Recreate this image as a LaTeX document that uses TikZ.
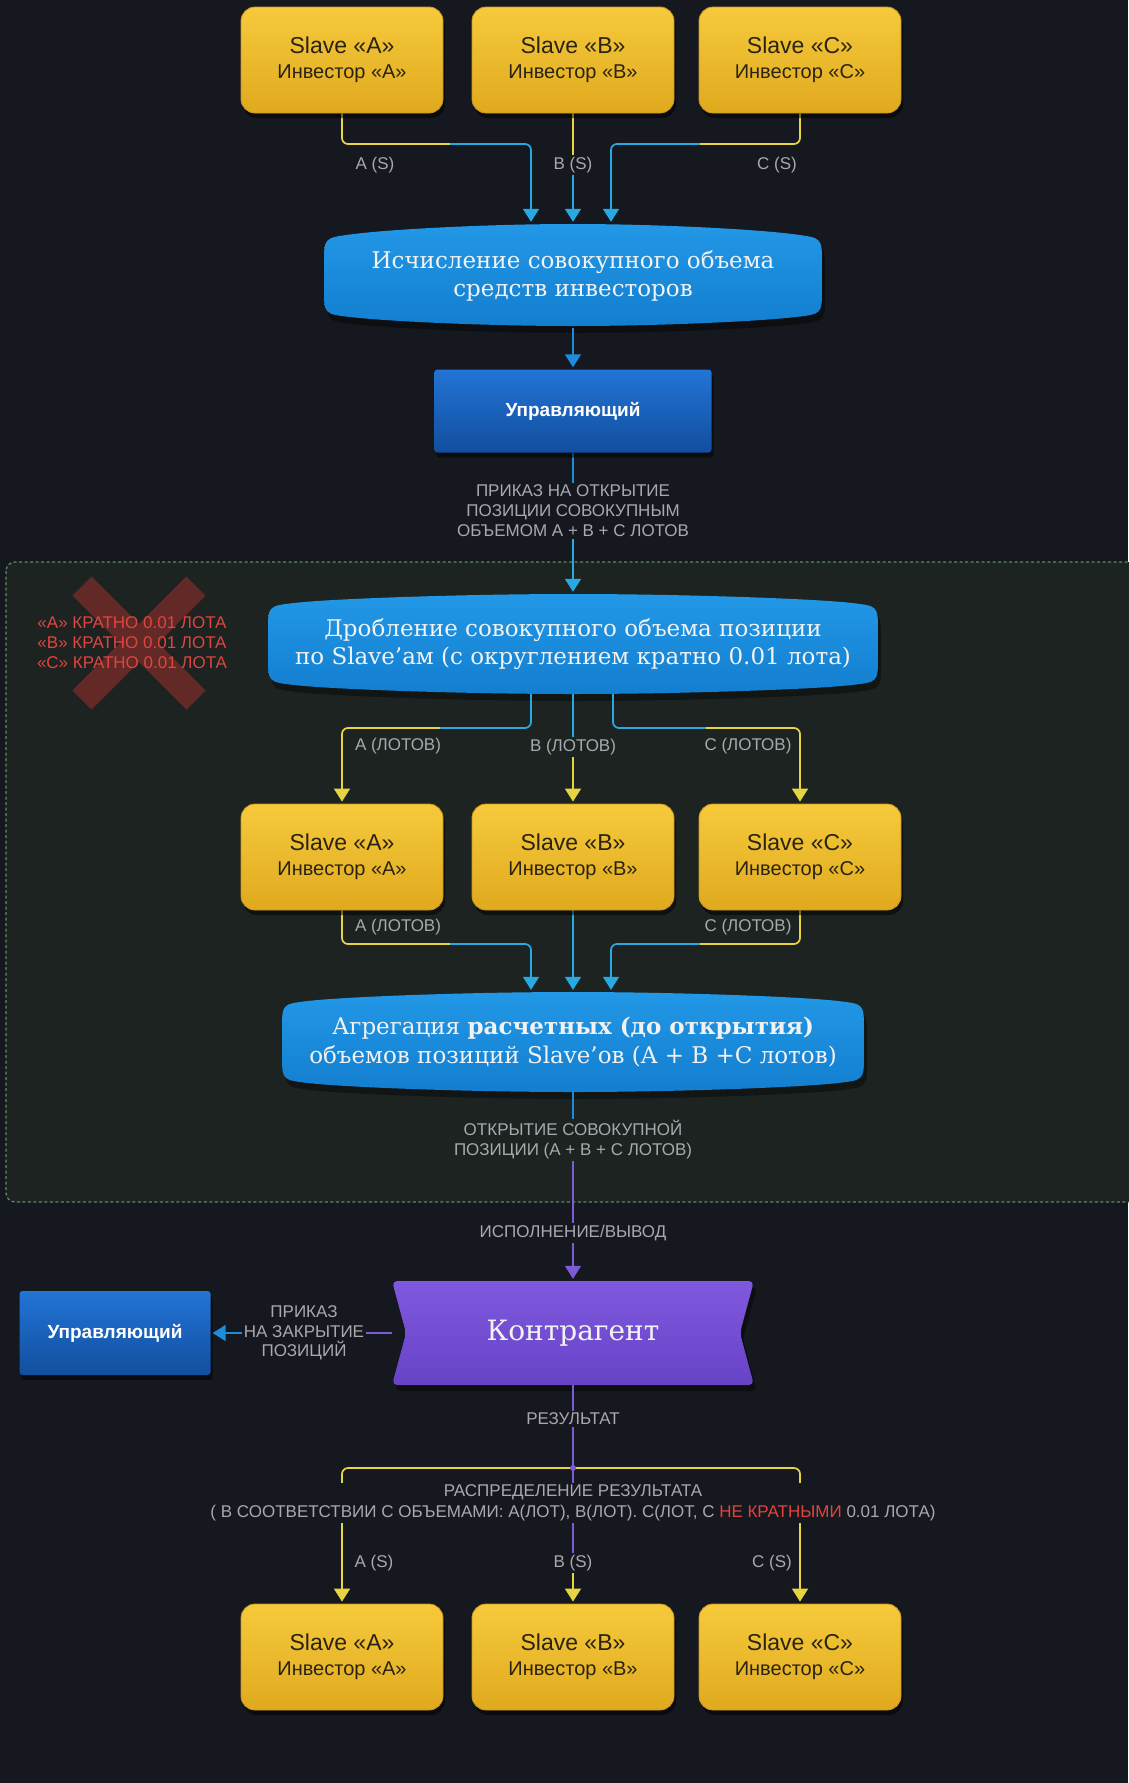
\documentclass[tikz,border=0pt]{standalone}
\usepackage{fontspec}
\setmainfont{DejaVu Serif}
\newfontfamily\sansf{Liberation Sans}
\usetikzlibrary{arrows.meta,calc,shadows}
\pgfdeclarelayer{bottomlayer}
\pgfdeclarelayer{linelayer}
\pgfsetlayers{bottomlayer,linelayer,main}
\definecolor{bg}{HTML}{15181F}
\definecolor{reg}{HTML}{1D2321}
\definecolor{regline}{HTML}{5E8C5A}
\definecolor{ylt}{HTML}{F6CA3C}
\definecolor{ydk}{HTML}{E0A91E}
\definecolor{yedge}{HTML}{C9961A}
\definecolor{ytext}{HTML}{2A2312}
\definecolor{cYel}{HTML}{E6D540}
\definecolor{cCyan}{HTML}{27A9E1}
\definecolor{cBlue}{HTML}{1E8BDB}
\definecolor{btop}{HTML}{2298E6}
\definecolor{bbot}{HTML}{137ECF}
\definecolor{btext}{HTML}{F2F2F2}
\definecolor{mtop}{HTML}{2274D6}
\definecolor{mbot}{HTML}{124E9E}
\definecolor{ptop}{HTML}{7F58DE}
\definecolor{pbot}{HTML}{6743C6}
\definecolor{cPur}{HTML}{7B5BD6}
\definecolor{labc}{HTML}{A6AAAF}
\definecolor{cRed}{HTML}{E0443E}
\definecolor{xred}{HTML}{6B2A27}
% pillow shape: #1 cx #2 cy #3 W #4 H #5 top bulge #6 bottom bulge #7 radius #8 options
\newcommand{\blobfill}[8]{%
 \path[#8] ({#1-#3},{#2-#4+#7})
 .. controls ({#1-#3},{#2-#4}) .. ({#1-#3+#7},{#2-#4-#5/4})
 .. controls ({#1-#3+#7+40},{#2-#4-#5/4-10*#5/#7}) and ({#1-#3/3},{#2-#4-#5}) .. ({#1},{#2-#4-#5})
 .. controls ({#1+#3/3},{#2-#4-#5}) and ({#1+#3-#7-40},{#2-#4-#5/4-10*#5/#7}) .. ({#1+#3-#7},{#2-#4-#5/4})
 .. controls ({#1+#3},{#2-#4}) .. ({#1+#3},{#2-#4+#7})
 -- ({#1+#3},{#2+#4-#7})
 .. controls ({#1+#3},{#2+#4}) .. ({#1+#3-#7},{#2+#4+#6/4})
 .. controls ({#1+#3-#7-40},{#2+#4+#6/4+10*#6/#7}) and ({#1+#3/3},{#2+#4+#6}) .. ({#1},{#2+#4+#6})
 .. controls ({#1-#3/3},{#2+#4+#6}) and ({#1-#3+#7+40},{#2+#4+#6/4+10*#6/#7}) .. ({#1-#3+#7},{#2+#4+#6/4})
 .. controls ({#1-#3},{#2+#4}) .. ({#1-#3},{#2+#4-#7}) -- cycle;}
\begin{document}
\begin{tikzpicture}[x=1pt,y=-1pt,
  slave/.style={rounded corners=14pt, minimum width=202pt, minimum height=106pt, top color=ylt, bottom color=ydk, draw=yedge, line width=0.8pt, drop shadow={shadow xshift=2pt, shadow yshift=-5pt, opacity=0.5, fill=black}, align=center, text=ytext, font=\sansf\fontsize{23}{25}\selectfont, inner sep=0pt},
  mgr/.style={rounded corners=3pt, top color=mtop, bottom color=mbot, drop shadow={shadow xshift=2pt, shadow yshift=-5pt, opacity=0.5, fill=black}, text=white, font=\sansf\bfseries\fontsize{19}{22}\selectfont},
  blob/.style={text=btext, align=center, font=\fontsize{23}{28.5}\selectfont, inner sep=0pt},
  lab/.style={font=\sansf\fontsize{17}{20}\selectfont, text=labc, fill=bg, inner sep=2pt, align=center},
  labr/.style={lab, fill=reg},
  ln/.style={line width=1.7pt, rounded corners=6pt},
  arr/.style={-{Triangle[width=16pt,length=13pt]}, shorten >=2pt},
]
\begin{pgfonlayer}{bottomlayer}
\fill[bg] (0,0) rectangle (1128,1783);
\useasboundingbox (0,0) rectangle (1128,1783);
\filldraw[fill=reg, draw=regline, dash pattern=on 3pt off 2.5pt, line width=1.3pt, rounded corners=9pt] (6,562) rectangle (1150,1202);
\draw[xred, line width=27pt, opacity=0.9] (82,586) -- (196,700) (196,586) -- (82,700);
% blobs
\blobfill{576}{283}{249}{38}{14}{12}{26}{fill=black,opacity=0.4}
\blobfill{573}{276}{249}{38}{14}{12}{26}{top color=btop,bottom color=bbot}
\blobfill{576}{651}{305}{38}{12}{12}{26}{fill=black,opacity=0.4}
\blobfill{573}{644}{305}{38}{12}{12}{26}{top color=btop,bottom color=bbot}
\blobfill{576}{1049}{291}{38}{12}{12}{26}{fill=black,opacity=0.4}
\blobfill{573}{1042}{291}{38}{12}{12}{26}{top color=btop,bottom color=bbot}
\fill[black,opacity=0.4,rounded corners=5pt] (395,1287) -- (757,1287) -- (743,1339) -- (757,1391) -- (395,1391) -- (409,1339) -- cycle;
\fill[top color=ptop,bottom color=pbot,rounded corners=5pt] (392,1281) -- (754,1281) -- (740,1333) -- (754,1385) -- (392,1385) -- (406,1333) -- cycle;
\end{pgfonlayer}

\node[font=\sansf\fontsize{17}{20}\selectfont, text=cRed, align=center] (redtxt) at (132,643) {«A» КРАТНО 0.01 ЛОТА\\«B» КРАТНО 0.01 ЛОТА\\«C» КРАТНО 0.01 ЛОТА};

% top slaves
\node[slave] (slA1) at (342,60) {Slave «A»\\{\fontsize{20}{24}\selectfont Инвестор «A»}};
\node[slave] (slB1) at (573,60) {Slave «B»\\{\fontsize{20}{24}\selectfont Инвестор «B»}};
\node[slave] (slC1) at (800,60) {Slave «C»\\{\fontsize{20}{24}\selectfont Инвестор «C»}};
\node[lab] (lAS1) at (375,165) {A (S)};
\node[lab] (lBS1) at (573,165) {B (S)};
\node[lab] (lCS1) at (777,165) {C (S)};

\node[blob, minimum width=498pt, minimum height=104pt] (calc) at (573,276) {Исчисление совокупного объема\\средств инвесторов};
\node[mgr, minimum width=277pt, minimum height=83pt] (upr1) at (573,411) {Управляющий};
\node[lab] (lPr1) at (573,511) {ПРИКАЗ НА ОТКРЫТИЕ\\ПОЗИЦИИ СОВОКУПНЫМ\\ОБЪЕМОМ А + В + С ЛОТОВ};

\node[blob, minimum width=610pt, minimum height=100pt] (drob) at (573,644) {Дробление совокупного объема позиции\\по Slave’ам (с округлением кратно 0.01 лота)};
\node[labr] (lAL2) at (398,746) {A (ЛОТОВ)};
\node[labr] (lBL2) at (573,747) {B (ЛОТОВ)};
\node[labr] (lCL2) at (748,746) {C (ЛОТОВ)};

\node[slave] (slA2) at (342,857) {Slave «A»\\{\fontsize{20}{24}\selectfont Инвестор «A»}};
\node[slave] (slB2) at (573,857) {Slave «B»\\{\fontsize{20}{24}\selectfont Инвестор «B»}};
\node[slave] (slC2) at (800,857) {Slave «C»\\{\fontsize{20}{24}\selectfont Инвестор «C»}};
\node[labr] (lAL3) at (398,927) {A (ЛОТОВ)};
\node[labr] (lCL3) at (748,927) {C (ЛОТОВ)};

\node[blob, minimum width=582pt, minimum height=100pt] (agg) at (573,1042) {Агрегация \textbf{расчетных (до открытия)}\\объемов позиций Slave’ов (A + B +C лотов)};
\node[labr] (lOtk) at (573,1140) {ОТКРЫТИЕ СОВОКУПНОЙ\\ПОЗИЦИИ (А + В + С ЛОТОВ)};
\node[lab] (lIsp) at (573,1233) {ИСПОЛНЕНИЕ/ВЫВОД};

\node[blob, font=\fontsize{28}{32}\selectfont, minimum width=362pt, minimum height=104pt] (kontr) at (573,1333) {Контрагент};
\node[mgr, minimum width=191pt, minimum height=84pt] (upr2) at (115,1333) {Управляющий};
\node[lab, font=\sansf\fontsize{17}{19.5}\selectfont] (lZak) at (304,1333) {ПРИКАЗ\\НА ЗАКРЫТИЕ\\ПОЗИЦИЙ};

\node[lab] (lRes) at (573,1419) {РЕЗУЛЬТАТ};
\coordinate (jn) at (573,1468);
\node[lab, font=\sansf\fontsize{17}{21}\selectfont] (lDist) at (573,1503) {РАСПРЕДЕЛЕНИЕ РЕЗУЛЬТАТА\\( В СООТВЕТСТВИИ С ОБЪЕМАМИ: А(ЛОТ), В(ЛОТ). С(ЛОТ, С \textcolor{cRed}{НЕ КРАТНЫМИ} 0.01 ЛОТА)};
\node[lab] (lAS3) at (374,1563) {A (S)};
\node[lab] (lBS3) at (573,1563) {B (S)};
\node[lab] (lCS3) at (772,1563) {C (S)};

\node[slave] (slA3) at (342,1657) {Slave «A»\\{\fontsize{20}{24}\selectfont Инвестор «A»}};
\node[slave] (slB3) at (573,1657) {Slave «B»\\{\fontsize{20}{24}\selectfont Инвестор «B»}};
\node[slave] (slC3) at (800,1657) {Slave «C»\\{\fontsize{20}{24}\selectfont Инвестор «C»}};

\begin{pgfonlayer}{linelayer}
% top
\coordinate (ta) at (450,144);
\coordinate (tc) at (700,144);
\draw[ln,cYel] (slA1.south) |- (ta);
\draw[ln,cCyan,arr] (ta) -| ($(calc.north)+(-42,0)$);
\draw[ln,cYel] (slB1.south) -- (lBS1.center);
\draw[ln,cCyan,arr] (lBS1.center) -- (calc.north);
\draw[ln,cYel] (slC1.south) |- (tc);
\draw[ln,cCyan,arr] (tc) -| ($(calc.north)+(38,0)$);
\draw[ln,cBlue,arr] (calc.south) -- (upr1.north);
\draw[ln,cBlue] (upr1.south) -- (lPr1.center);
\draw[ln,cCyan,arr] (lPr1.center) -- (drob.north);
% drob to slaves
\coordinate (da) at (440,728);
\coordinate (dc) at (706,728);
\draw[ln,cCyan] ($(drob.south)+(-42,0)$) |- (da);
\draw[ln,cYel,arr] (da) -| (slA2.north);
\draw[ln,cCyan] (drob.south) -- (lBL2.center);
\draw[ln,cYel,arr] (lBL2.center) -- (slB2.north);
\draw[ln,cCyan] ($(drob.south)+(40,0)$) |- (dc);
\draw[ln,cYel,arr] (dc) -| (slC2.north);
% slaves to agg
\coordinate (ea) at (450,944);
\coordinate (ec) at (700,944);
\draw[ln,cYel] (slA2.south) |- (ea);
\draw[ln,cCyan,arr] (ea) -| ($(agg.north)+(-42,0)$);
\draw[ln,cCyan,arr] (slB2.south) -- (agg.north);
\draw[ln,cYel] (slC2.south) |- (ec);
\draw[ln,cCyan,arr] (ec) -| ($(agg.north)+(38,0)$);
% agg to kontr
\draw[ln,cBlue] (agg.south) -- (lOtk.center);
\draw[ln,cPur] (lOtk.center) -- (lIsp.center);
\draw[ln,cPur,arr] (lIsp.center) -- (kontr.north);
% kontr to upr2
\draw[ln,cPur] (kontr.west) -- (lZak.center);
\draw[ln,cBlue,arr] (lZak.center) -- (upr2.east);
% result
\draw[ln,cPur] (kontr.south) -- (jn);
\draw[ln,cYel,arr] (jn) -| (slA3.north);
\draw[ln,cYel,arr] (jn) -| (slC3.north);
\draw[ln,cPur] (jn) -- (lBS3.center);
\draw[ln,cYel,arr] (lBS3.center) -- (slB3.north);
\fill[cPur] (jn) circle (3pt);
\end{pgfonlayer}
\end{tikzpicture}
\end{document}
